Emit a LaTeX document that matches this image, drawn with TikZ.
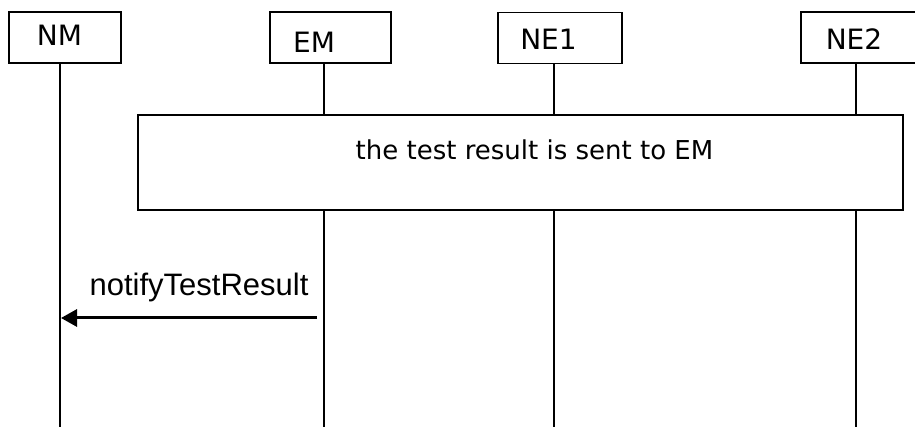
\documentclass[tikz,border=0pt]{standalone}
\usepackage{fontspec}
\setmainfont{DejaVu Sans}
\newfontfamily\msgfont{Liberation Sans}
\usetikzlibrary{arrows.meta}
\begin{document}
\begin{tikzpicture}[x=1pt,y=-1pt]
\tikzset{actor/.style={draw, line width=1.3pt, minimum height=51pt, inner sep=0pt},
  actorname/.style={inner sep=0pt, font=\fontsize{28}{32}\selectfont},
  lifeline/.style={line width=1.5pt},
  notebox/.style={draw, fill=white, line width=2pt, minimum width=765pt, minimum height=95pt, inner sep=0pt},
  msg/.style={line width=3pt, -{Triangle[length=16pt,width=17pt]}}}
\useasboundingbox (0,0) rectangle (915,427);
\clip (0,0) rectangle (915,427);
\node[actor, minimum width=112pt] (nm) at (65,37.5){};
\node[actorname] (nmname) at (59.5,35){NM};
\node[actor, minimum width=121pt] (em) at (330.5,37.5){};
\node[actorname] (emname) at (314,42.5){EM};
\node[actor, minimum width=124pt] (ne1) at (560,38){};
\node[actorname] (ne1name) at (548.5,39){NE1};
\node[actor, minimum width=119pt] (ne2) at (860.5,37.5){};
\node[actorname] (ne2name) at (854,39){NE2};
\coordinate (nmend) at (60,427);
\coordinate (emend) at (324,427);
\coordinate (ne1end) at (554,427);
\coordinate (ne2end) at (856,427);
\draw[lifeline](nm.south -| nmend) -- (nmend);
\draw[lifeline](em.south -| emend) -- (emend);
\draw[lifeline](ne1.south -| ne1end) -- (ne1end);
\draw[lifeline](ne2.south -| ne2end) -- (ne2end);
\node[notebox] (note) at (520.5,162.5){};
\node[anchor=base, inner sep=0pt, font=\fontsize{26}{30}\selectfont] (notetxt) at (534.5,160){the test result is sent to EM};
\coordinate (msgstart) at (317,318);
\coordinate (msgend) at (61,318);
\draw[msg](msgstart) -- (msgend);
\node[anchor=base, inner sep=0pt, font=\msgfont\fontsize{31}{35}\selectfont] (msglabel) at (199,296){notifyTestResult};
\end{tikzpicture}
\end{document}
